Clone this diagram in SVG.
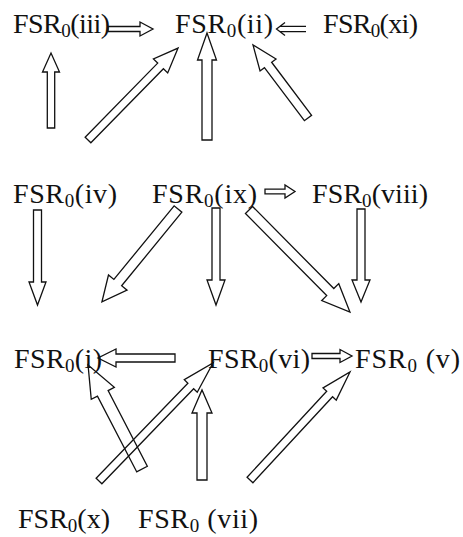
<svg xmlns="http://www.w3.org/2000/svg" width="463" height="537" viewBox="0 0 463 537">
<style>
.t{font-family:"Liberation Serif","Times New Roman",serif;font-size:28px;fill:#111}
.s{font-size:19px}
.a{fill:none;stroke:#111;stroke-width:1.3;stroke-linejoin:miter}
</style>
<rect width="463" height="537" fill="#fff"/>
<g id="connectors">
<polygon class="a" transform="translate(108,29)" points="0,-2.5 32,-2.5 32,-7 45,0 32,7 32,2.5 0,2.5"/>
<path class="a" d="M306,26.3 H280 M306,31.7 H280 M285,22.5 L276.5,29 L285,35.5"/>
<polygon class="a" transform="translate(51,128) rotate(-90)" points="0,-3.7 56,-3.7 56,-8.5 75,0 56,8.5 56,3.7 0,3.7"/>
<polygon class="a" transform="translate(88,140) rotate(-45.6)" points="0,-4 103.7,-4 103.7,-10 128.7,0 103.7,10 103.7,4 0,4"/>
<polygon class="a" transform="translate(207,140) rotate(-90)" points="0,-5 80,-5 80,-9.5 107,0 80,9.5 80,5 0,5"/>
<polygon class="a" transform="translate(308,118) rotate(-127)" points="0,-4.5 66.4,-4.5 66.4,-10 91.4,0 66.4,10 66.4,4.5 0,4.5"/>
<polygon class="a" transform="translate(37.5,210) rotate(90)" points="0,-4 72,-4 72,-8.5 95,0 72,8.5 72,4 0,4"/>
<polygon class="a" transform="translate(178,209) rotate(129.3)" points="0,-5 95.1,-5 95.1,-12 120.1,0 95.1,12 95.1,5 0,5"/>
<polygon class="a" transform="translate(216,208) rotate(90)" points="0,-4 72,-4 72,-9 97,0 72,9 72,4 0,4"/>
<polygon class="a" transform="translate(249,210) rotate(45.3)" points="0,-5 115.5,-5 115.5,-12 143.5,0 115.5,12 115.5,5 0,5"/>
<polygon class="a" transform="translate(361,209) rotate(90)" points="0,-4 71,-4 71,-9 93,0 71,9 71,4 0,4"/>
<polygon class="a" transform="translate(265,191.5)" points="0,-2.4 20,-2.4 20,-6.5 30,0 20,6.5 20,2.4 0,2.4"/>
<polygon class="a" transform="translate(175,358) rotate(180)" points="0,-4 59,-4 59,-9 77,0 59,9 59,4 0,4"/>
<polygon class="a" transform="translate(312,356)" points="0,-2.5 28,-2.5 28,-6.5 40,0 28,6.5 28,2.5 0,2.5"/>
<polygon class="a" transform="translate(142,469) rotate(-117.4)" points="0,-6 85.2,-6 85.2,-13 117.2,0 85.2,13 85.2,6 0,6"/>
<polygon class="a" transform="translate(99,481) rotate(-46)" points="0,-4 132.1,-4 132.1,-9 164.1,0 132.1,9 132.1,4 0,4"/>
<polygon class="a" transform="translate(202,480) rotate(-90)" points="0,-5 67,-5 67,-10 90,0 67,10 67,5 0,5"/>
<polygon class="a" transform="translate(250,480) rotate(-47.2)" points="0,-4 117.2,-4 117.2,-9 147.2,0 117.2,9 117.2,4 0,4"/>
</g>
<g id="n-iii"><text class="t" x="13" y="33" textLength="97">FSR<tspan class="s" dy="4">0</tspan><tspan dy="-4">(iii)</tspan></text></g>
<g id="n-ii"><text class="t" x="175" y="33" textLength="98">FSR<tspan class="s" dy="4">0</tspan><tspan dy="-4">(ii)</tspan></text></g>
<g id="n-xi"><text class="t" x="323" y="33" textLength="95">FSR<tspan class="s" dy="4">0</tspan><tspan dy="-4">(xi)</tspan></text></g>
<g id="n-iv"><text class="t" x="13" y="203" textLength="104">FSR<tspan class="s" dy="4">0</tspan><tspan dy="-4">(iv)</tspan></text></g>
<g id="n-ix"><text class="t" x="152" y="203" textLength="105">FSR<tspan class="s" dy="4">0</tspan><tspan dy="-4">(ix)</tspan></text></g>
<g id="n-viii"><text class="t" x="312" y="203" textLength="116">FSR<tspan class="s" dy="4">0</tspan><tspan dy="-4">(viii)</tspan></text></g>
<g id="n-i"><text class="t" x="14" y="368" textLength="88">FSR<tspan class="s" dy="4">0</tspan><tspan dy="-4">(i)</tspan></text></g>
<g id="n-vi"><text class="t" x="208" y="368" textLength="102">FSR<tspan class="s" dy="4">0</tspan><tspan dy="-4">(vi)</tspan></text></g>
<g id="n-v"><text class="t" x="355" y="368" textLength="105">FSR<tspan class="s" dy="4">0</tspan><tspan dy="-4"> (v)</tspan></text></g>
<g id="n-x"><text class="t" x="18" y="528" textLength="92">FSR<tspan class="s" dy="4">0</tspan><tspan dy="-4">(x)</tspan></text></g>
<g id="n-vii"><text class="t" x="138" y="528" textLength="120">FSR<tspan class="s" dy="4">0</tspan><tspan dy="-4"> (vii)</tspan></text></g>
</svg>
